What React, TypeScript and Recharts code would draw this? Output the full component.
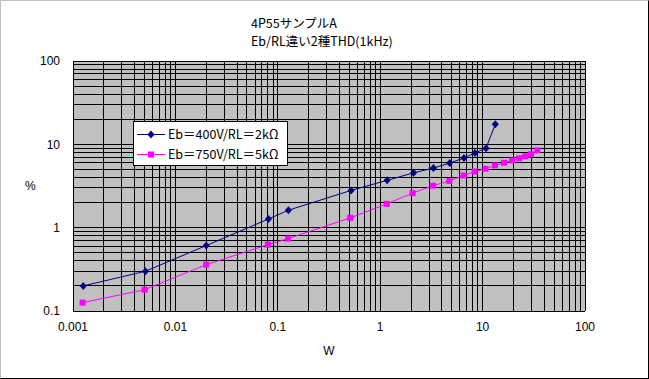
import React from "react";
import { LineChart, Line, XAxis, YAxis, CartesianGrid, Legend } from "recharts";

const seriesNames = ["Eb＝400V/RL＝2kΩ", "Eb＝750V/RL＝5kΩ"];
const seriesColors = ["#000080", "#FF00FF"];

// W / %
const wattsA = [0.00126, 0.0051, 0.02, 0.081, 0.127, 0.52, 1.17, 2.12, 3.31, 4.77, 6.57, 8.43, 10.8, 13.3];
const thdA = [0.2, 0.3, 0.61, 1.27, 1.62, 2.8, 3.7, 4.55, 5.19, 5.96, 6.86, 7.87, 9.0, 17.4];

const wattsB = [0.00124, 0.005, 0.02, 0.08, 0.126, 0.51, 1.16, 2.07, 3.29, 4.74, 6.52, 8.37, 10.7, 13.2, 16.2, 19.4, 22.8, 26.1, 29.7, 34.3];
const thdB = [0.126, 0.18, 0.36, 0.625, 0.74, 1.31, 1.93, 2.6, 3.19, 3.64, 4.23, 4.72, 5.09, 5.59, 6.02, 6.41, 6.8, 7.18, 7.6, 8.48];

const xDecades = [0.001, 0.01, 0.1, 1, 10, 100];
const yDecades = [0.1, 1, 10, 100];
const xLabels = ["0.001", "0.01", "0.1", "1", "10", "100"];
const yLabels = ["0.1", "1", "10", "100"];

const dataA = wattsA.map((w, i) => ({ w, v: thdA[i] }));
const dataB = wattsB.map((w, i) => ({ w, v: thdB[i] }));

// every 1..9 step inside each decade, for the grid
const withMinors = (decades: number[]) => {
  const out: number[] = [];
  decades.forEach((d, i) => {
    if (i === decades.length - 1) {
      out.push(d);
      return;
    }
    for (let k = 1; k <= 9; k++) out.push(+(d * k).toPrecision(3));
  });
  return out;
};
const xTicks = withMinors(xDecades);
const yTicks = withMinors(yDecades);

const labelFor = (decades: number[], labels: string[]) => (v: number) => {
  const i = decades.findIndex((d) => Math.abs(d - v) / d < 1e-6);
  return i >= 0 ? labels[i] : "";
};

const Diamond = (props: any) => {
  const { cx, cy } = props;
  if (cx == null || cy == null) return null;
  return <path d={`M${cx},${cy - 4}L${cx + 3.5},${cy}L${cx},${cy + 4}L${cx - 3.5},${cy}Z`} fill="#000080" />;
};

const Square = (props: any) => {
  const { cx, cy } = props;
  if (cx == null || cy == null) return null;
  return <rect x={cx - 3} y={cy - 3} width={6} height={6} fill="#FF00FF" />;
};

const LegendBox = () => (
  <div
    style={{
      width: 155,
      height: 45,
      boxSizing: "border-box",
      border: "1px solid #000",
      background: "#fff",
      fontFamily: "'Noto Sans CJK JP', 'Liberation Sans', sans-serif",
      fontSize: 12.5,
      lineHeight: "20px",
      paddingTop: 2,
    }}
  >
    {seriesNames.map((name, i) => (
      <div key={name} style={{ display: "flex", alignItems: "center", height: 20 }}>
        <svg width={34} height={20} style={{ flex: "none" }}>
          <line x1={3} x2={31} y1={10.5} y2={10.5} stroke={seriesColors[i]} strokeWidth={1} />
          {i === 0 ? (
            <path d="M17,6.5L20.5,10.5L17,14.5L13.5,10.5Z" fill={seriesColors[i]} />
          ) : (
            <rect x={14} y={7.5} width={6} height={6} fill={seriesColors[i]} />
          )}
        </svg>
        <span style={{ whiteSpace: "nowrap" }}>{name}</span>
      </div>
    ))}
  </div>
);

export default function App() {
  return (
    <div style={{ position: "fixed", left: 0, top: 0, width: 649, height: 379, background: "#fff" }}>
      <div
        style={{
          position: "absolute",
          left: 0,
          top: 0,
          width: 649,
          height: 379,
          boxSizing: "border-box",
          borderTop: "1px solid #c0c0c0",
          borderLeft: "1px solid #c0c0c0",
          borderRight: "1px solid #000",
          borderBottom: "1px solid #000",
          pointerEvents: "none",
          zIndex: 2,
        }}
      />
      <div
        style={{
          position: "absolute",
          left: 251,
          top: 14,
          fontFamily: "'Noto Sans CJK JP', sans-serif",
          fontSize: 12.5,
          lineHeight: "18px",
          color: "#000",
          whiteSpace: "nowrap",
        }}
      >
        <div>4P55サンプルA</div>
        <div>Eb/RL違い2種THD(1kHz)</div>
      </div>
      <LineChart width={649} height={379} margin={{ top: 61, right: 64, left: 0, bottom: 0 }}>
        <CartesianGrid
          fill="#c0c0c0"
          stroke="#000"
          strokeOpacity={1}
          shapeRendering="crispEdges"
          horizontal
          vertical
        />
        <XAxis
          dataKey="w"
          type="number"
          scale="log"
          domain={[0.001, 100]}
          ticks={xTicks}
          interval={0}
          allowDataOverflow
          tickFormatter={labelFor(xDecades, xLabels)}
          tickLine={false}
          tickSize={0}
          tickMargin={11}
          axisLine={{ stroke: "#000", shapeRendering: "crispEdges" }}
          height={68}
          tick={{ fill: "#000", fontSize: 12, fontFamily: "'Liberation Sans', Arial, sans-serif" }}
          label={{ value: "W", position: "insideBottom", offset: 24, fill: "#000", fontSize: 12, fontFamily: "'Liberation Sans', Arial, sans-serif" }}
        />
        <YAxis
          dataKey="v"
          type="number"
          scale="log"
          domain={[0.1, 100]}
          ticks={yTicks}
          interval={0}
          allowDataOverflow
          tickFormatter={labelFor(yDecades, yLabels)}
          tickLine={false}
          tickSize={0}
          tickMargin={13}
          axisLine={{ stroke: "#000", shapeRendering: "crispEdges" }}
          width={73}
          tick={{ fill: "#000", fontSize: 12, fontFamily: "'Liberation Sans', Arial, sans-serif" }}
          label={{ value: "%", position: "insideLeft", offset: 25, fill: "#000", fontSize: 12, fontFamily: "'Liberation Sans', Arial, sans-serif" }}
        />
        <Legend
          layout="horizontal"
          align="center"
          verticalAlign="middle"
          content={<LegendBox />}
          wrapperStyle={{ left: 133, top: 121, width: 155, height: 45 }}
        />
        <Line
          data={dataA}
          dataKey="v"
          name={seriesNames[0]}
          stroke={seriesColors[0]}
          strokeWidth={1}
          dot={<Diamond />}
          activeDot={false}
          isAnimationActive={false}
        />
        <Line
          data={dataB}
          dataKey="v"
          name={seriesNames[1]}
          stroke={seriesColors[1]}
          strokeWidth={1}
          dot={<Square />}
          activeDot={false}
          isAnimationActive={false}
        />
      </LineChart>
    </div>
  );
}
